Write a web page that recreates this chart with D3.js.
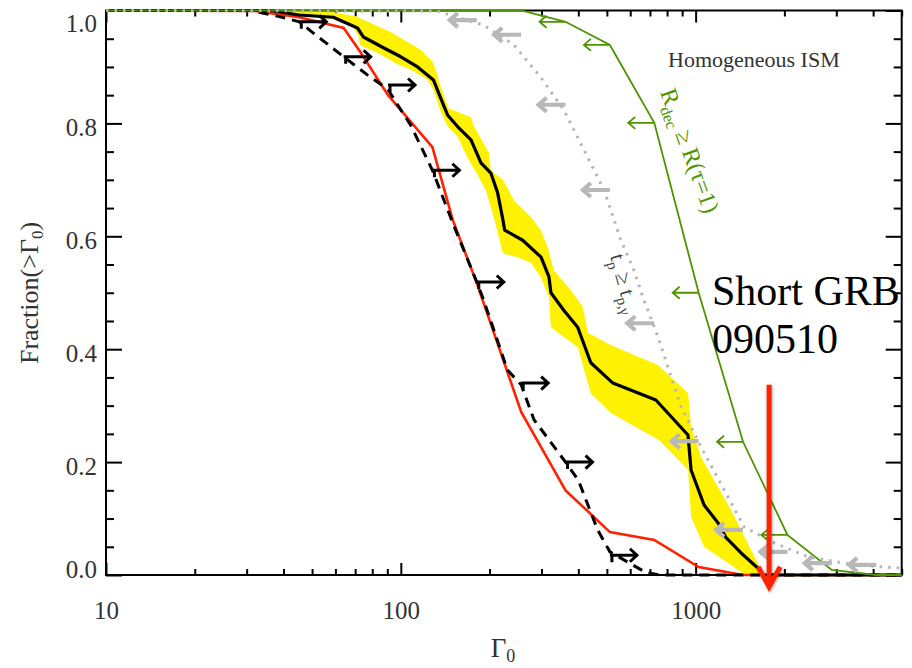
<!DOCTYPE html>
<html>
<head>
<meta charset="utf-8">
<script src="https://cdn.jsdelivr.net/npm/d3@7"></script>
<style>
  body { margin: 0; background: #fff; }
  svg { display: block; }
  svg text { font-family: "Liberation Serif", "Times New Roman", serif; }
  .tick line { stroke: #000; stroke-width: 2; }
  .tick text { font-size: 25px; fill: #333; font-family: "Liberation Serif", serif; }
</style>
</head>
<body>
<svg id="chart" width="912" height="668"></svg>
<script>
// Γ0 cumulative distributions, [Γ0, fraction(>Γ0)]
const redCurve = [[10,1],[32,0.999],[45.25,0.988],[64,0.969],[73,0.926],[90.5,0.850],[128,0.758],[150,0.629],
  [181,0.517],[256,0.289],[362,0.150],[512,0.076],[724,0.062],[1024,0.014],[1448,0],[5000,0]];

const dashedCurve = [[10,1],[30.9,1.0],[38.1,0.990],[45.25,0.980],[50.5,0.960],[64,0.918],[77,0.886],[90.5,0.860],
  [97.5,0.833],[108,0.797],[128,0.717],[151,0.620],[181,0.519],[191,0.487],[230,0.363],[256,0.337],[283,0.275],
  [362,0.200],[400,0.168],[465,0.080],[512,0.041],[680,0.004],[760,0],[5000,0]];

const blackCurve = [[10,1],[36.1,1.0],[45.25,0.992],[59,0.988],[71.3,0.969],[74.7,0.953],[87.3,0.934],[100,0.918],
  [114,0.900],[129,0.877],[136,0.847],[144,0.815],[156,0.794],[173,0.771],[187,0.730],[202,0.712],[213,0.677],
  [222,0.629],[225,0.611],[259,0.593],[299,0.563],[318,0.528],[323,0.500],[357,0.469],[398,0.439],[441,0.376],
  [524,0.340],[733,0.310],[942,0.248],[965,0.186],[1068,0.124],[1192,0.092],[1268,0.066],[1426,0.039],
  [1628,0.012],[1694,0],[5000,0]];

const bandUpper = [[10,1],[45.6,1.0],[59.1,0.997],[70.2,0.990],[92.3,0.962],[117,0.930],[129,0.907],[136,0.868],
  [145,0.827],[173,0.811],[177,0.795],[199,0.748],[202,0.717],[222,0.700],[242,0.664],[276,0.634],[298,0.611],
  [315,0.581],[330,0.540],[377,0.505],[414,0.475],[431,0.429],[516,0.407],[745,0.372],[943,0.322],[965,0.262],
  [1043,0.209],[1319,0.115],[1668,0.009],[1694,0]];

const bandLower = [[10,1],[30.9,1.0],[59.1,0.985],[69.1,0.970],[71.8,0.955],[73.0,0.938],[83.3,0.925],[97.5,0.905],
  [108,0.895],[123,0.878],[129,0.859],[136,0.823],[144,0.795],[156,0.776],[168,0.740],[182,0.709],[194,0.682],
  [205,0.641],[222,0.570],[249,0.563],[276,0.553],[298,0.528],[318,0.492],[323,0.439],[398,0.404],[441,0.322],
  [516,0.287],[652,0.257],[751,0.239],[943,0.186],[965,0.103],[1068,0.050],[1394,0.009],[1483,0]];

const greenCurve = [[10,1],[256,1.0],[362,0.980],[512,0.939],[724,0.801],[1024,0.500],[1448,0.236],[2048,0.071],
  [2896,0.009],[4096,0],[5000,0]];
const greenArrows = [[362,0.980],[512,0.939],[724,0.801],[1024,0.500],[1448,0.236],[2048,0.071]];

const grayCurve = [[10,1],[133,0.999],[191,0.974],[242,0.939],[298,0.882],[357,0.824],[418,0.753],[489,0.682],
  [558,0.593],[617,0.540],[668,0.487],[745,0.422],[892,0.298],[1043,0.227],[1249,0.151],[1460,0.085],
  [1847,0.057],[2410,0.032],[3452,0.018],[5000,0.012]];
const grayArrows = [[181,0.983],[256,0.957],[362,0.833],[512,0.682],[724,0.446],[1024,0.237],[1448,0.080],
  [2048,0.041],[2896,0.021],[4096,0.018]];

const blackArrows = [[45.25,0.980],[64,0.918],[90.5,0.868],[128,0.717],[181,0.519],[256,0.340],[362,0.200],[512,0.035]];

const grbGamma = 1775;
const grbArrowTop = 0.337, grbArrowTip = -0.021;

const xMajor = [10, 100, 1000];
const yMajor = [0, 0.2, 0.4, 0.6, 0.8, 1.0];

const svg = d3.select('#chart');
const x = d3.scaleLog().domain([10, 5000]).range([106, 901.7]);
const y = d3.scaleLinear().domain([0, 1]).range([575, 10.5]);
const line = d3.line().x(d => x(d[0])).y(d => y(d[1]));

const xMinor = x.ticks().filter(v => !xMajor.includes(v));
const yMinor = d3.range(0.05, 1, 0.05).filter(v => Math.abs(v * 5 - Math.round(v * 5)) > 1e-6);

// axes
const axes = svg.append('g').attr('class', 'axes');
axes.append('g').attr('transform', 'translate(0,575)')
  .call(d3.axisBottom(x).tickValues(xMinor).tickSizeInner(-6).tickSizeOuter(0).tickFormat(''));
axes.append('g').attr('transform', 'translate(0,575)')
  .call(d3.axisBottom(x).tickValues(xMajor).tickSizeInner(-12).tickSizeOuter(0).tickPadding(26).tickFormat(d3.format('d')));
axes.append('g').attr('transform', 'translate(0,10.5)')
  .call(d3.axisTop(x).tickValues(xMinor).tickSizeInner(-6).tickSizeOuter(0).tickFormat(''));
axes.append('g').attr('transform', 'translate(0,10.5)')
  .call(d3.axisTop(x).tickValues(xMajor).tickSizeInner(-12).tickSizeOuter(0).tickFormat(''));
axes.append('g').attr('transform', 'translate(106,0)')
  .call(d3.axisLeft(y).tickValues(yMinor).tickSizeInner(-8).tickSizeOuter(0).tickFormat(''));
const yAx = axes.append('g').attr('transform', 'translate(106,0)')
  .call(d3.axisLeft(y).tickValues(yMajor).tickSizeInner(-16).tickSizeOuter(0).tickPadding(9).tickFormat(d3.format('.1f')));
yAx.selectAll('text').attr('dy', d => d === 1 ? '0.84em' : d === 0 ? '0.08em' : '0.48em');
axes.append('g').attr('transform', 'translate(901.7,0)')
  .call(d3.axisRight(y).tickValues(yMinor).tickSizeInner(-8).tickSizeOuter(0).tickFormat(''));
axes.append('g').attr('transform', 'translate(901.7,0)')
  .call(d3.axisRight(y).tickValues(yMajor).tickSizeInner(-16).tickSizeOuter(0).tickFormat(''));
axes.selectAll('.domain').remove();
axes.append('rect').attr('x', 106).attr('y', 10.5).attr('width', 901.7 - 106).attr('height', 575 - 10.5)
  .attr('fill', 'none').attr('stroke', '#000').attr('stroke-width', 2);

// axis titles
svg.append('text').attr('x', 503).attr('y', 657).attr('text-anchor', 'middle')
  .attr('font-size', 27).attr('fill', '#333')
  .call(t => { t.append('tspan').text('Γ'); t.append('tspan').attr('font-size', 18).attr('dy', 5).text('0'); });
svg.append('text').attr('transform', 'translate(38,293) rotate(-90)').attr('text-anchor', 'middle')
  .attr('font-size', 26).attr('fill', '#333')
  .call(t => {
    t.append('tspan').text('Fraction(>Γ');
    t.append('tspan').attr('font-size', 17).attr('dy', 5).text('0');
    t.append('tspan').attr('dy', -5).text(')');
  });

// curves
const curves = svg.append('g').attr('class', 'curves');
curves.append('path').attr('d', line(bandUpper.concat(bandLower.slice().reverse())) + 'Z')
  .attr('fill', '#fff200').attr('stroke', 'none');
curves.append('path').attr('d', line(redCurve)).attr('fill', 'none')
  .attr('stroke', '#ff2200').attr('stroke-width', 2.6);
curves.append('path').attr('d', line(dashedCurve)).attr('fill', 'none')
  .attr('stroke', '#000').attr('stroke-width', 3).attr('stroke-dasharray', '10,7');
curves.append('path').attr('d', line(blackCurve)).attr('fill', 'none')
  .attr('stroke', '#000').attr('stroke-width', 3.2).attr('stroke-linejoin', 'round');
curves.append('path').attr('d', line(greenCurve)).attr('fill', 'none')
  .attr('stroke', '#4d9400').attr('stroke-width', 1.8);
curves.append('path').attr('d', line(grayCurve)).attr('fill', 'none')
  .attr('stroke', '#b5b5b5').attr('stroke-width', 3).attr('stroke-dasharray', '2.5,6');

// limit arrows: dir -1 points left, +1 points right
function arrowPath(d, dir, len, hw, hd) {
  const x0 = x(d[0]), y0 = y(d[1]), xe = x0 + dir * len;
  return `M${x0},${y0}H${xe}M${xe - dir * hd},${y0 - hw}L${xe},${y0}L${xe - dir * hd},${y0 + hw}`;
}
curves.append('g').selectAll('path').data(grayArrows).join('path')
  .attr('d', d => arrowPath(d, -1, 27, 7, 8)).attr('fill', 'none')
  .attr('stroke', '#b8b8b8').attr('stroke-width', 4.2);
curves.append('g').selectAll('path').data(greenArrows).join('path')
  .attr('d', d => arrowPath(d, -1, 26, 6, 7)).attr('fill', 'none')
  .attr('stroke', '#4d9400').attr('stroke-width', 1.8);
curves.append('g').selectAll('path').data(blackArrows).join('path')
  .attr('d', d => arrowPath(d, 1, 27, 6.5, 7) + `M${x(d[0]) + 2},${y(d[1])}V${y(d[1]) + 7}`).attr('fill', 'none')
  .attr('stroke', '#000').attr('stroke-width', 3);

// GRB 090510 arrow
const defs = svg.append('defs');
defs.append('filter').attr('id', 'shadow').attr('x', '-50%').attr('y', '-10%').attr('width', '200%').attr('height', '120%')
  .append('feDropShadow').attr('dx', 1).attr('dy', 1).attr('stdDeviation', 1.5)
  .attr('flood-color', '#000').attr('flood-opacity', 0.35);
const gx = x(grbGamma), yTop = y(grbArrowTop), yTip = y(grbArrowTip);
svg.append('path')
  .attr('d', `M${gx},${yTop}V${yTip}M${gx - 11},${yTip - 20}L${gx},${yTip}L${gx + 11},${yTip - 20}`)
  .attr('fill', 'none').attr('stroke', '#ff2200').attr('stroke-width', 5).attr('filter', 'url(#shadow)');

// annotations
svg.append('text').attr('x', 668).attr('y', 67).attr('font-size', 22).attr('fill', '#333').text('Homogeneous ISM');
const grb = svg.append('text').attr('font-size', 42).attr('fill', '#000');
grb.append('tspan').attr('x', 712).attr('y', 305).text('Short GRB');
grb.append('tspan').attr('x', 712).attr('y', 353).text('090510');

svg.append('text').attr('transform', 'translate(660,92) rotate(70)').attr('font-size', 24).attr('fill', '#4d9400')
  .call(t => {
    t.append('tspan').text('R');
    t.append('tspan').attr('font-size', 16).attr('dy', 6).text('dec');
    t.append('tspan').attr('dy', -6).text(' ≥ R(τ=1)');
  });

svg.append('text').attr('transform', 'translate(610,256) rotate(75)').attr('font-size', 22).attr('fill', '#444')
  .call(t => {
    t.append('tspan').text('t');
    t.append('tspan').attr('font-size', 15).attr('dy', 5).text('p');
    t.append('tspan').attr('dy', -5).text(' ≥ t');
    t.append('tspan').attr('font-size', 15).attr('dy', 5).text('p,γ');
  });
</script>
</body>
</html>
